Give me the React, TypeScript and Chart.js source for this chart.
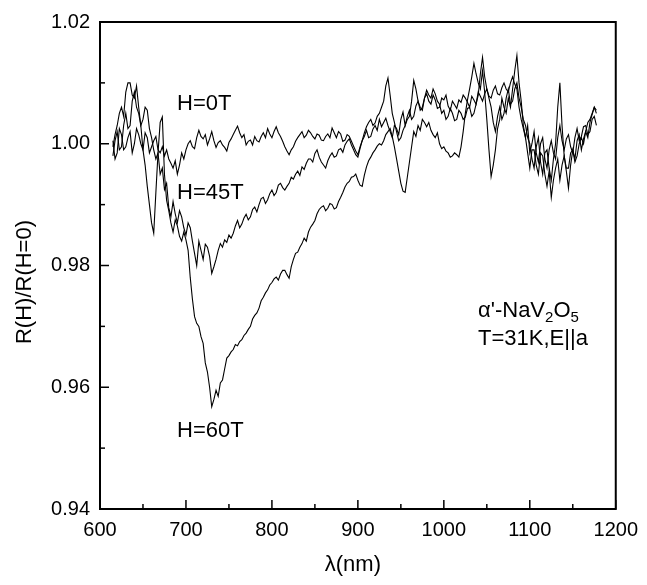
import React, { useEffect, useRef } from "react";
import { Chart, registerables } from "chart.js";

Chart.register(...registerables);

// ---------- data ----------
const wavelengths: number[] = [
  615, 617.5, 620, 622.5, 625, 627.5, 630, 632.5, 635, 637.5, 640, 642.5, 645, 647.5, 650, 652.5, 655, 657.5, 660, 662.5,
  665, 667.5, 670, 672.5, 675, 677.5, 680, 682.5, 685, 687.5, 690, 692.5, 695, 697.5, 700, 702.5, 705, 707.5, 710, 712.5,
  715, 717.5, 720, 722.5, 725, 727.5, 730, 732.5, 735, 737.5, 740, 742.5, 745, 747.5, 750, 752.5, 755, 757.5, 760, 762.5,
  765, 767.5, 770, 772.5, 775, 777.5, 780, 782.5, 785, 787.5, 790, 792.5, 795, 797.5, 800, 802.5, 805, 807.5, 810, 812.5,
  815, 817.5, 820, 822.5, 825, 827.5, 830, 832.5, 835, 837.5, 840, 842.5, 845, 847.5, 850, 852.5, 855, 857.5, 860, 862.5,
  865, 867.5, 870, 872.5, 875, 877.5, 880, 882.5, 885, 887.5, 890, 892.5, 895, 897.5, 900, 902.5, 905, 907.5, 910, 912.5,
  915, 917.5, 920, 922.5, 925, 927.5, 930, 932.5, 935, 937.5, 940, 942.5, 945, 947.5, 950, 952.5, 955, 957.5, 960, 962.5,
  965, 967.5, 970, 972.5, 975, 977.5, 980, 982.5, 985, 987.5, 990, 992.5, 995, 997.5, 1000, 1002.5, 1005, 1007.5, 1010, 1012.5,
  1015, 1017.5, 1020, 1022.5, 1025, 1027.5, 1030, 1032.5, 1035, 1037.5, 1040, 1042.5, 1045, 1047.5, 1050, 1052.5, 1055, 1057.5, 1060, 1062.5,
  1065, 1067.5, 1070, 1072.5, 1075, 1077.5, 1080, 1082.5, 1085, 1087.5, 1090, 1092.5, 1095, 1097.5, 1100, 1102.5, 1105, 1107.5, 1110, 1112.5,
  1115, 1117.5, 1120, 1122.5, 1125, 1127.5, 1130, 1132.5, 1135, 1137.5, 1140, 1142.5, 1145, 1147.5, 1150, 1152.5, 1155, 1157.5, 1160, 1162.5,
  1165, 1167.5, 1170, 1172.5, 1175, 1177.5,
];

const h0T: number[] = [
  1.0005, 0.9975, 0.9985, 1.0025, 1.0015, 0.999, 0.9995, 1.001, 1.002, 0.9985, 1.0, 1.0025, 1.0015, 1.0, 0.999, 1.0018, 1.001, 0.9985, 0.9995, 1.0005,
  1.0012, 0.999, 0.9985, 0.9995, 0.998, 0.999, 0.9975, 0.9968, 0.996, 0.9972, 0.995, 0.9965, 0.9985, 0.9975, 0.999, 1.0, 1.0005, 0.9995, 0.9992, 1.001,
  1.0022, 1.0012, 1.0008, 1.0015, 0.9998, 1.0008, 1.002, 1.0005, 0.9994, 1.0002, 1.0005, 0.9998, 0.9994, 0.9988, 1.0002, 1.0008, 1.0015, 1.0022, 1.0029, 1.0018,
  1.001, 1.0015, 0.9998, 1.0004, 1.0006, 0.9998, 1.0012, 1.0005, 1.0003, 1.0012, 1.0018, 1.001, 1.0025, 1.0016, 1.001, 1.002, 1.0028, 1.0018, 1.0012, 1.0004,
  0.9995, 0.9988, 0.9982, 0.999, 0.9995, 1.0004, 1.001, 1.0015, 1.002, 1.001, 1.0014, 1.0022, 1.0018, 1.0012, 1.0008, 1.0016, 1.0014, 1.0006, 1.0005, 1.0012,
  1.0016, 1.001, 1.0026, 1.0018, 1.001, 1.002, 1.0016, 1.0004, 1.0006, 1.0015, 1.0012, 1.0004, 0.9996, 0.9988, 0.9982, 0.9995, 1.0005, 1.0012, 1.0022, 1.001,
  1.0012, 1.0024, 1.003, 1.0022, 1.004, 1.0028, 1.0035, 1.0042, 1.003, 1.002, 1.001, 1.003, 1.0025, 1.0015, 1.004, 1.0052, 1.003, 1.0045, 1.0055, 1.004,
  1.0045, 1.0062, 1.007, 1.0055, 1.006, 1.0075, 1.0082, 1.007, 1.0065, 1.008, 1.0072, 1.0058, 1.006, 1.0075, 1.0072, 1.008, 1.0062, 1.0055, 1.007, 1.0064,
  1.0058, 1.0072, 1.0068, 1.008, 1.0075, 1.0068, 1.006, 1.0078, 1.0072, 1.0065, 1.0085, 1.0078, 1.007, 1.0082, 1.009, 1.0078, 1.0075, 1.0088, 1.0095, 1.0082,
  1.008, 1.0092, 1.01, 1.009, 1.0085, 1.01, 1.011, 1.0098, 1.009, 1.006, 1.004, 1.0025, 1.001, 1.003, 0.9985, 1.0, 1.002, 0.9985, 0.997, 1.0,
  1.001, 0.9975, 0.996, 0.999, 1.0005, 0.9985, 0.9975, 1.001, 1.003, 1.0005, 0.999, 1.0008, 1.0015, 0.9995, 0.9985, 1.001, 1.0025, 1.0005, 1.0012, 1.0028,
  1.003, 1.0015, 1.002, 1.004, 1.0045, 1.003,
];

const h45T: number[] = [
  0.998, 1.0005, 1.002, 0.999, 0.9995, 1.003, 1.005, 1.0025, 1.003, 1.007, 1.0085, 1.006, 1.005, 1.003, 1.004, 1.006, 1.0055, 1.0025, 1.001, 0.999,
  0.9975, 0.9985, 0.995, 0.996, 0.9925, 0.9935, 0.9895, 0.988, 0.9905, 0.9885, 0.987, 0.989, 0.988, 0.9862, 0.985, 0.987, 0.9862, 0.984, 0.982, 0.98,
  0.984, 0.9825, 0.981, 0.9835, 0.983, 0.9815, 0.9787, 0.9798, 0.981, 0.9825, 0.9836, 0.983, 0.9842, 0.9838, 0.985, 0.9845, 0.9853, 0.9865, 0.9874, 0.9862,
  0.9868, 0.9878, 0.9884, 0.9875, 0.988, 0.9892, 0.9896, 0.9888, 0.99, 0.991, 0.9912, 0.9902, 0.9908, 0.9918, 0.9924, 0.9915, 0.992, 0.9932, 0.9935, 0.9928,
  0.9924, 0.993, 0.9935, 0.9945, 0.9942, 0.995, 0.9955, 0.9948, 0.9962, 0.9958, 0.9968, 0.9975, 0.9975, 0.997, 0.9984, 0.999, 0.9978, 0.997, 0.9965, 0.996,
  0.9972, 0.998, 0.9985, 0.9978, 0.998, 0.999, 0.9992, 0.9986, 0.9998, 1.0004, 1.0008, 0.9998, 0.999, 0.9982, 0.9978, 0.9992, 1.0005, 1.0018, 1.0028, 1.0035,
  1.004, 1.003, 1.0034, 1.0045, 1.005, 1.006, 1.007, 1.0095, 1.0108, 1.008, 1.005, 1.0035, 1.002, 1.0005, 1.001, 1.0022, 1.003, 1.004, 1.0045, 1.007,
  1.0104, 1.009, 1.007, 1.006, 1.0055, 1.0075, 1.0088, 1.008, 1.0075, 1.009, 1.0082, 1.007, 1.0065, 1.005, 1.0055, 1.004, 1.0045, 1.0058, 1.005, 1.0038,
  1.004, 1.0055, 1.005, 1.004, 1.0044, 1.0058, 1.006, 1.0045, 1.005, 1.0065, 1.008, 1.0115, 1.0142, 1.011, 1.009, 1.0075, 1.006, 1.0035, 1.002, 1.0045,
  1.006, 1.004, 1.005, 1.0075, 1.009, 1.0065, 1.007, 1.009, 1.01, 1.0075, 1.006, 1.004, 1.003, 1.001, 1.0, 0.9975, 0.996, 0.9995, 1.001, 0.997,
  0.995, 0.9985, 0.999, 0.996, 0.994, 0.9975, 1.0, 1.006, 1.01, 1.003, 0.998, 0.9955, 0.9927, 0.9965, 0.999, 0.9975, 1.0005, 1.0015, 0.999, 1.0008,
  1.002, 1.001, 1.0035, 1.0048, 1.006, 1.005,
];

const h60T: number[] = [
  0.9995, 1.0015, 1.003, 1.005, 1.006, 1.0045, 1.0085, 1.01, 1.01, 1.008, 1.0075, 1.0095, 1.006, 1.003, 0.999, 0.9965, 0.993, 0.99, 0.987, 0.9853,
  0.992, 0.9985, 1.0035, 1.0044, 0.995, 0.9907, 0.989, 0.987, 0.9855, 0.9875, 0.9865, 0.9848, 0.984, 0.9855, 0.9842, 0.9825, 0.978, 0.9745, 0.9716, 0.9705,
  0.97, 0.9683, 0.9672, 0.964, 0.9625, 0.96, 0.9568, 0.958, 0.9595, 0.9585, 0.9607, 0.9612, 0.963, 0.9648, 0.9652, 0.9658, 0.9662, 0.967, 0.9668, 0.9675,
  0.9678, 0.9685, 0.9689, 0.9695, 0.97, 0.9712, 0.9718, 0.9722, 0.973, 0.9742, 0.9748, 0.9755, 0.976, 0.9768, 0.9772, 0.9778, 0.9781, 0.9776, 0.9786, 0.9792,
  0.9792, 0.9785, 0.9779, 0.9798, 0.981, 0.982, 0.9822, 0.983, 0.9836, 0.9845, 0.984, 0.9855, 0.9863, 0.9868, 0.9874, 0.9885, 0.9892, 0.9896, 0.9898, 0.989,
  0.9894, 0.9902, 0.99, 0.9893, 0.9895, 0.9905, 0.9912, 0.992, 0.9929, 0.9935, 0.9938, 0.9945, 0.9946, 0.995, 0.994, 0.9932, 0.993, 0.9948, 0.9962, 0.9972,
  0.9978, 0.9985, 0.999, 0.9996, 1.0, 0.9998, 1.0005, 1.0015, 1.002, 1.0025, 1.0012, 0.9995, 0.9975, 0.9955, 0.9935, 0.9922, 0.992, 0.9945, 0.997, 0.9995,
  1.002, 1.0012, 1.003, 1.0022, 1.004, 1.0035, 1.0028, 1.0035, 1.0022, 1.0015, 1.001, 1.0018, 1.0, 0.9992, 0.9995, 0.9988, 0.9985, 0.9978, 0.998, 0.9985,
  0.9982, 0.9978, 0.9995, 1.002, 1.005, 1.0072, 1.009, 1.011, 1.0132, 1.0115, 1.01, 1.009, 1.012, 1.0085, 1.004, 0.999, 0.9946, 0.9965, 0.999, 1.0025,
  1.004, 1.0075, 1.006, 1.005, 1.0075, 1.006, 1.009, 1.012, 1.0145, 1.01, 1.007, 1.003, 1.001, 0.9985, 0.996, 0.999, 0.999, 0.9965, 0.995, 0.9985,
  0.998, 0.995, 0.993, 0.9955, 0.9912, 0.994, 0.996, 0.9975, 0.994, 0.9965, 0.998, 0.996, 0.996, 0.9985, 0.999, 0.997, 0.998, 1.0, 1.001, 1.0,
  1.002, 1.0035, 1.004, 1.005, 1.006, 1.0055,
];

const xMajorTicks: number[] = [600, 700, 800, 900, 1000, 1100, 1200];
const xMinorTicks: number[] = [650, 750, 850, 950, 1050, 1150];
const yMajorTicks: number[] = [0.94, 0.96, 0.98, 1.0, 1.02];
const yMinorTicks: number[] = [0.95, 0.97, 0.99, 1.01];

const curveLabels: string[] = ["H=0T", "H=45T", "H=60T"];
const xTitle = "λ(nm)";
const yTitle = "R(H)/R(H=0)";

// ---------- chart ----------
const FONT = "Arial, 'Liberation Sans', sans-serif";

const decorPlugin = {
  id: "decor",
  afterDraw(chart: any) {
    const { ctx, chartArea } = chart;
    const { left, right, top, bottom } = chartArea;
    const xs = chart.scales.x;
    const ys = chart.scales.y;
    ctx.save();
    ctx.strokeStyle = "#000";
    ctx.fillStyle = "#000";
    // frame
    ctx.lineWidth = 2;
    ctx.strokeRect(left, top, right - left, bottom - top);
    // ticks (inward)
    ctx.lineWidth = 1.5;
    const seg = (x1: number, y1: number, x2: number, y2: number) => {
      ctx.beginPath();
      ctx.moveTo(x1, y1);
      ctx.lineTo(x2, y2);
      ctx.stroke();
    };
    xMajorTicks.forEach((v) => {
      const p = xs.getPixelForValue(v);
      seg(p, bottom, p, bottom - 9);
    });
    xMinorTicks.forEach((v) => {
      const p = xs.getPixelForValue(v);
      seg(p, bottom, p, bottom - 5);
    });
    yMajorTicks.forEach((v) => {
      const p = ys.getPixelForValue(v);
      seg(left, p, left + 9, p);
    });
    yMinorTicks.forEach((v) => {
      const p = ys.getPixelForValue(v);
      seg(left, p, left + 5, p);
    });

    // axis titles
    ctx.font = `22px ${FONT}`;
    ctx.textAlign = "center";
    ctx.textBaseline = "middle";
    ctx.fillText(xTitle, (left + right) / 2 - 5, 565);
    ctx.save();
    ctx.translate(25, 282);
    ctx.rotate(-Math.PI / 2);
    ctx.fillText(yTitle, 0, 0);
    ctx.restore();

    // curve labels
    ctx.textAlign = "left";
    ctx.fillText(curveLabels[0], 177, 104);
    ctx.fillText(curveLabels[1], 177, 193);
    ctx.fillText(curveLabels[2], 177, 431);

    // sample annotation with subscripts
    const drawRich = (parts: [string, boolean][], x: number, y: number) => {
      let cx = x;
      parts.forEach(([t, sub]) => {
        ctx.font = sub ? `15px ${FONT}` : `22px ${FONT}`;
        ctx.fillText(t, cx, sub ? y + 7 : y);
        cx += ctx.measureText(t).width;
      });
    };
    drawRich(
      [
        ["α'-NaV", false],
        ["2", true],
        ["O", false],
        ["5", true],
      ],
      478,
      311
    );
    ctx.font = `22px ${FONT}`;
    ctx.fillText("T=31K,E||a", 478, 339);
    ctx.restore();
  },
};

export default function App() {
  const ref = useRef<HTMLCanvasElement | null>(null);
  useEffect(() => {
    if (!ref.current) return;
    const mk = (vals: number[]) => wavelengths.map((w, i) => ({ x: w, y: vals[i] }));
    const ds = (label: string, vals: number[]) => ({
      label,
      data: mk(vals),
      borderColor: "#000",
      borderWidth: 1.1,
      pointRadius: 0,
      fill: false,
      tension: 0,
    });
    const chart = new Chart(ref.current, {
      type: "line",
      data: {
        datasets: [ds(curveLabels[0], h0T), ds(curveLabels[1], h45T), ds(curveLabels[2], h60T)],
      },
      options: {
        animation: false,
        responsive: false,
        devicePixelRatio: 1,
        layout: { padding: { left: 0, right: 28, top: 22, bottom: 0 } },
        plugins: { legend: { display: false }, tooltip: { enabled: false } },
        scales: {
          x: {
            type: "linear",
            min: 600,
            max: 1200,
            grid: { display: false, drawTicks: false },
            border: { display: false },
            ticks: {
              autoSkip: false,
              maxRotation: 0,
              padding: 9,
              color: "#000",
              font: { family: FONT, size: 20 },
              callback: (v: any) => String(v),
            },
            afterBuildTicks: (s: any) => {
              s.ticks = xMajorTicks.map((v) => ({ value: v }));
            },
            afterFit: (s: any) => {
              s.height = 76;
            },
          },
          y: {
            type: "linear",
            min: 0.94,
            max: 1.02,
            grid: { display: false, drawTicks: false },
            border: { display: false },
            ticks: {
              autoSkip: false,
              padding: 10,
              color: "#000",
              font: { family: FONT, size: 20 },
              callback: (v: any) => Number(v).toFixed(2),
            },
            afterBuildTicks: (s: any) => {
              s.ticks = yMajorTicks.map((v) => ({ value: v }));
            },
            afterFit: (s: any) => {
              s.width = 100;
            },
          },
        },
      },
      plugins: [decorPlugin],
    });
    return () => chart.destroy();
  }, []);
  return (
    <div style={{ position: "fixed", left: 0, top: 0, width: 647, height: 585, background: "#fff" }}>
      <canvas ref={ref} width={647} height={585} style={{ width: 647, height: 585 }} />
    </div>
  );
}
